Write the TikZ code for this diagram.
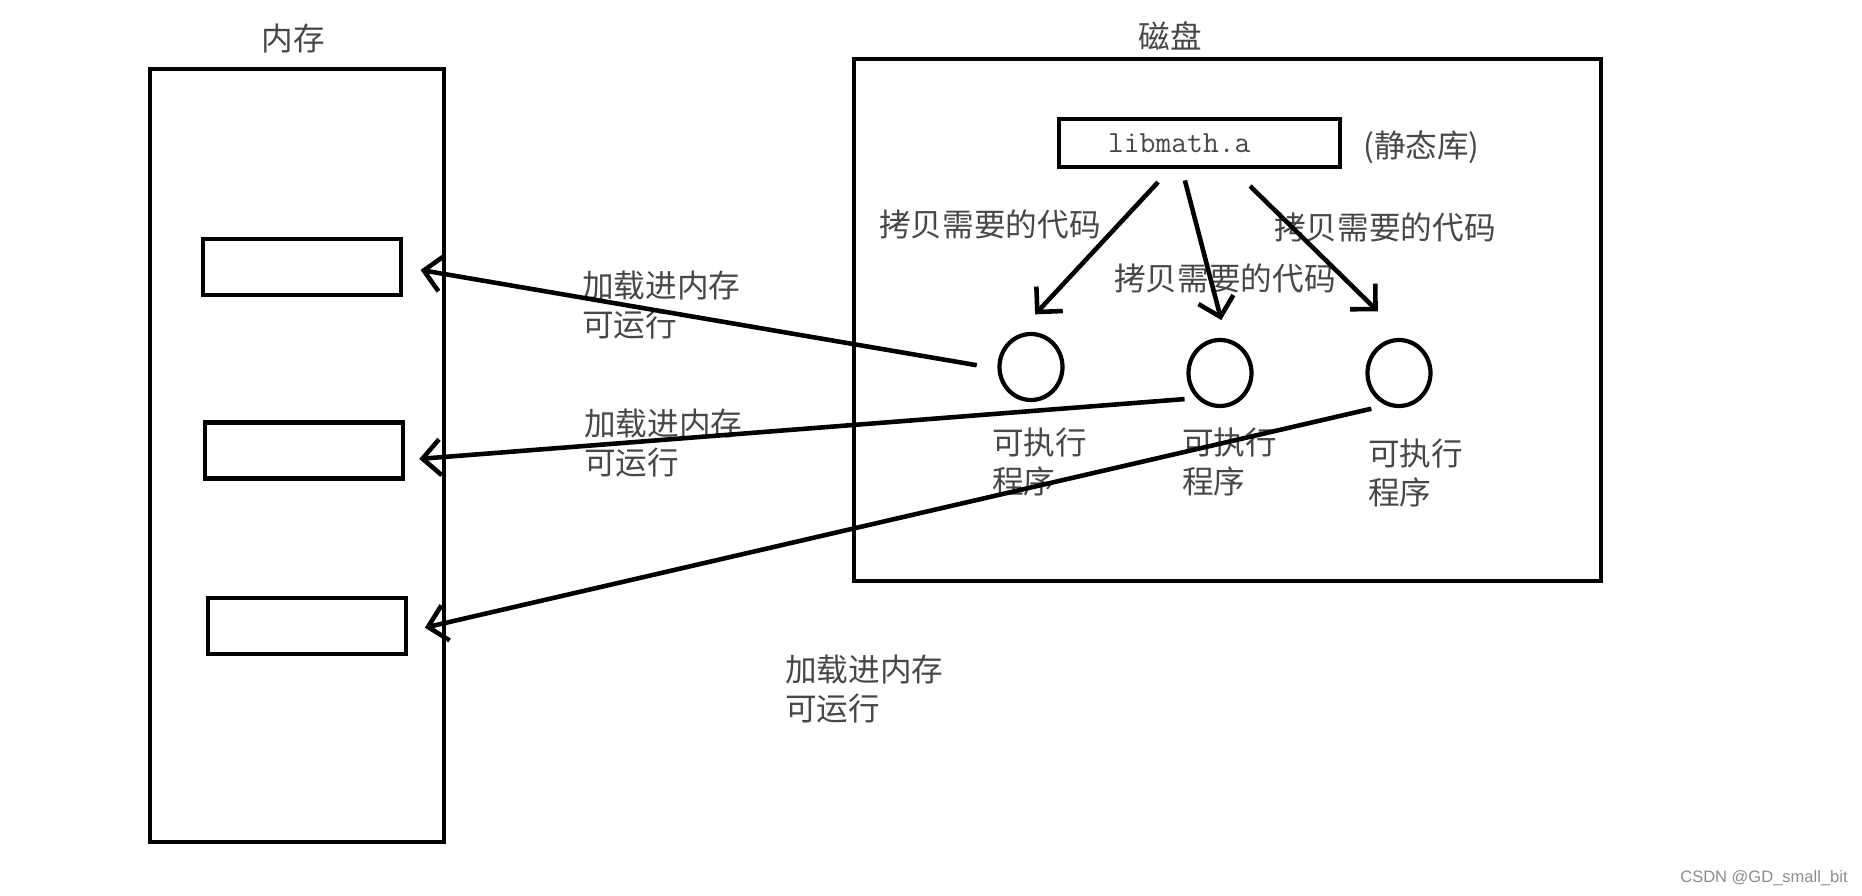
\documentclass[tikz,border=0pt]{standalone}
\usepackage{fontspec}
\newfontfamily\cjk{Noto Sans CJK SC}
\newfontfamily\markfont{Liberation Sans}
\usetikzlibrary{positioning,arrows.meta,shapes.geometric}

\begin{document}
\begin{tikzpicture}[x=0.2mm,y=-0.2mm,
  frame/.style={draw,line width=2.6pt,inner sep=0pt},
  slot/.style={draw,line width=2.6pt,inner sep=0pt,
    minimum width=39.6mm,minimum height=11.2mm},
  exe/.style={draw,ellipse,line width=2.4pt,inner sep=0pt,
    minimum width=12.6mm,minimum height=13.2mm},
  note/.style={text=black!72,inner sep=0pt,anchor=west,align=left,
    font=\cjk\fontsize{18}{22.7}\selectfont},
  link/.style={-{Straight Barb[length=3.6mm,width=7.2mm]},line width=2.6pt}]
\useasboundingbox (0,0) rectangle (1862,896);
% memory side
\node[frame,minimum width=58.8mm,minimum height=154.6mm] (ram) at (297,455.5) {};
\node[note,anchor=center] (ramtitle) at (293,39) {内存};
\node[slot] (slot1) at (302,267) {};
\node[slot] (slot2) at (304,450.5) {};
\node[slot] (slot3) at (307,626) {};
% disk side
\node[frame,minimum width=149.4mm,minimum height=104.4mm] (disk) at (1227.5,320) {};
\node[note,anchor=center] (disktitle) at (1170,36) {磁盘};
\node[frame,text width=36.6mm,inner xsep=9.8mm,minimum height=9.6mm,align=left,
  text=black!72,font=\ttfamily\fontsize{17.5}{20}\selectfont] (lib) at (1199.5,143) {libmath.a};
\node[note] (libnote) at (1363,147) {(静态库)};
\node[exe] (exe1) at (1031,367) {};
\node[exe] (exe2) at (1220,373) {};
\node[exe] (exe3) at (1399,373) {};
\node[note] (exenote1) at (992,462) {可执行\\程序};
\node[note] (exenote2) at (1182,462) {可执行\\程序};
\node[note] (exenote3) at (1368,473) {可执行\\程序};
\node[note] (copynote1) at (879,224) {拷贝需要的代码};
\node[note] (copynote2) at (1114,278) {拷贝需要的代码};
\node[note] (copynote3) at (1274,227) {拷贝需要的代码};
\node[note] (loadnote1) at (582,305) {加载进内存\\可运行};
\node[note] (loadnote2) at (584,443) {加载进内存\\可运行};
\node[note] (loadnote3) at (785,689) {加载进内存\\可运行};
% connectors
\draw[link,shorten <=3.5mm,shorten >=6mm] ([xshift=-5.9mm]lib.south) -- (exe1.118);
\draw[link,shorten <=2.3mm,shorten >=3.8mm] ([xshift=-3.5mm]lib.south) -- (exe2.80);
\draw[link,shorten <=4.8mm,shorten >=7.8mm] ([xshift=6.7mm]lib.south) -- (exe3.79);
\draw[link,shorten <=4.2mm,shorten >=3.5mm] (exe1.183) -- (slot1.east);
\draw[link,shorten <=2.4mm,shorten >=2.8mm] (exe2.227) -- ([yshift=-1.9mm]slot2.east);
\draw[link,shorten <=3mm,shorten >=3.4mm] (exe3.248) -- ([yshift=-1.1mm]slot3.east);
\node[text=black!45,inner sep=0pt,anchor=east,font=\markfont\fontsize{9.4}{11}\selectfont]
  (mark) at (1848,878) {CSDN @GD\_small\_bit};
\end{tikzpicture}
\end{document}
